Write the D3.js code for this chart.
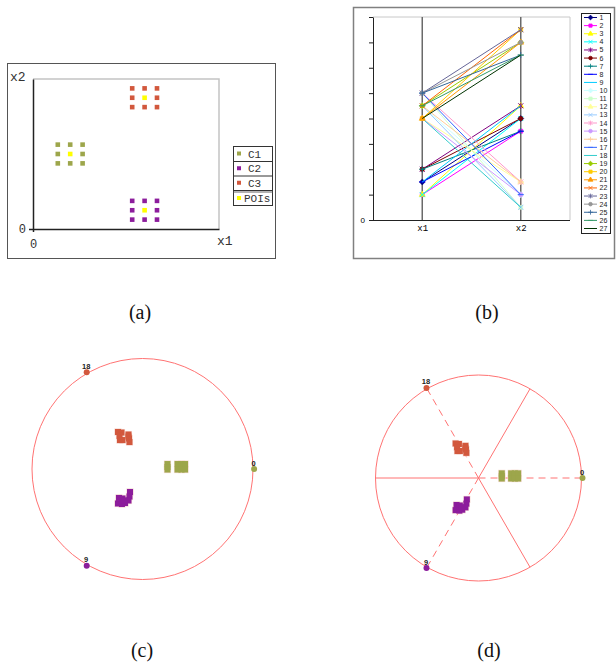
<!DOCTYPE html>
<html>
<head>
<meta charset="utf-8">
<script src="https://cdn.jsdelivr.net/npm/d3@7"></script>
<style>
body { margin: 0; background: #fff; }
svg { display: block; }
</style>
</head>
<body>
<div id="fig"></div>
<script>
// 27 points, 3 clusters of 9 (series 1..27 in panel b)
var pointX1 = [3, 2, 2, 2, 4, 4, 4, 3, 3,
               9, 10, 8, 9, 10, 8, 9, 10, 8,
               9, 8, 8, 9, 10, 10, 10, 9, 8];
var pointX2 = [8, 7, 9, 8, 9, 8, 7, 7, 9,
               2, 1, 3, 1, 3, 2, 3, 2, 1,
               14, 15, 14, 15, 15, 14, 13, 13, 13];
var pointCluster = [0, 0, 0, 0, 0, 0, 0, 0, 0,
                    1, 1, 1, 1, 1, 1, 1, 1, 1,
                    2, 2, 2, 2, 2, 2, 2, 2, 2];
var poiIndex = [0, 9, 18];
var clusterNames = ['C1', 'C2', 'C3'];
var axisNames = ['x1', 'x2'];
var seriesNames = ['1','2','3','4','5','6','7','8','9','10','11','12','13','14',
                   '15','16','17','18','19','20','21','22','23','24','25','26','27'];

// radviz projection of the same points (unit circle coords)
var projX = [0.226, 0.226, 0.317, 0.317, 0.353, 0.353, 0.385, 0.385, 0.226,
             -0.213, -0.181, -0.222, -0.186, -0.113, -0.118, -0.127, -0.158, -0.163,
             -0.222, -0.190, -0.208, -0.204, -0.181, -0.127, -0.122, -0.118, -0.127];
var projY = [0.045, -0.005, 0.045, -0.005, 0.045, -0.005, 0.045, -0.005, 0.018,
             -0.262, -0.267, -0.312, -0.317, -0.208, -0.249, -0.285, -0.308, -0.285,
             0.335, 0.330, 0.299, 0.262, 0.262, 0.312, 0.276, 0.244, 0.294];
// anchors = POI point index, placed around the circle in this order
var anchorNames = ['0', '18', '9'];

var clusterColor = ['#9da64b', '#8c1d9c', '#d2583d'];
var poiColor = '#ffff00';
var seriesColor = ['#000080', '#ff00ff', '#ffff00', '#00ffff', '#800080', '#800000', '#008080', '#0000ff', '#00ccff',
                   '#ccffff', '#ccffcc', '#ffff99', '#99ccff', '#ff99cc', '#cc99ff', '#ffcc99', '#3366ff', '#33cccc',
                   '#99cc00', '#ffcc00', '#ff9900', '#ff6600', '#666699', '#969696', '#336699', '#339966', '#003300'];
var markerTypes = ['diamond', 'square', 'triangle', 'times', 'star', 'circle', 'plus', 'dash', 'none'];
var ringColor = '#ff7373';

var svg = d3.select('#fig').append('svg')
    .attr('width', 616)
    .attr('height', 669);

svg.append('rect')
    .attr('width', 616)
    .attr('height', 669)
    .attr('fill', '#fff');

function drawScatter(g) {
    var x = d3.scaleLinear().domain([0, 15]).range([33, 219]);
    var y = d3.scaleLinear().domain([0, 16]).range([229, 79]);
    var mono = '"Liberation Mono", "DejaVu Sans Mono", monospace';

    g.append('rect')
        .attr('x', 7.5).attr('y', 63.5)
        .attr('width', 268).attr('height', 195)
        .attr('fill', 'none')
        .attr('stroke', '#555');

    g.append('path')
        .attr('d', 'M' + x(0) + ',' + y(16) + 'H' + x(15) + 'V' + y(0))
        .attr('fill', 'none')
        .attr('stroke', '#c4c4c4')
        .attr('stroke-width', 1.5);

    var xa = g.append('g')
        .attr('transform', 'translate(0,' + y(0) + ')')
        .call(d3.axisBottom(x).tickValues([0]).tickSize(3).tickSizeOuter(0).tickPadding(7));
    var ya = g.append('g')
        .attr('transform', 'translate(' + x(0) + ',0)')
        .call(d3.axisLeft(y).tickValues([0]).tickSize(4).tickSizeOuter(0).tickPadding(3));
    [xa, ya].forEach(function(a) {
        a.attr('font-family', mono).attr('font-size', 12);
        a.selectAll('path, line').attr('stroke', '#222').attr('stroke-width', 1.5);
        a.selectAll('text').attr('fill', '#333');
    });

    g.append('text')
        .attr('x', 10).attr('y', 81)
        .attr('font-family', mono).attr('font-size', 13).attr('fill', '#333')
        .text('x2');
    g.append('text')
        .attr('x', 217).attr('y', 245)
        .attr('font-family', mono).attr('font-size', 13).attr('fill', '#333')
        .text('x1');

    g.selectAll('.pt')
        .data(d3.range(pointX1.length))
        .enter().append('rect')
        .attr('class', 'pt')
        .attr('x', d => x(pointX1[d]) - 2.3)
        .attr('y', d => y(pointX2[d]) - 2.3)
        .attr('width', 4.6).attr('height', 4.6)
        .attr('fill', d => poiIndex.indexOf(d) >= 0 ? poiColor : clusterColor[pointCluster[d]]);

    // legend
    var names = clusterNames.concat(['POIs']);
    var colors = clusterColor.concat([poiColor]);
    var rowY = [146, 161, 175.5, 190, 206];
    var lg = g.append('g');
    lg.append('rect')
        .attr('x', 233.5).attr('y', 146.5)
        .attr('width', 39).attr('height', 59)
        .attr('fill', '#fff').attr('stroke', '#333');
    names.forEach(function(n, i) {
        if (i > 0) {
            lg.append('line')
                .attr('x1', 233.5).attr('x2', 272.5)
                .attr('y1', rowY[i] + 0.5).attr('y2', rowY[i] + 0.5)
                .attr('stroke', '#333');
        }
        var cy = (rowY[i] + rowY[i + 1]) / 2;
        lg.append('rect')
            .attr('x', 237).attr('y', cy - 2)
            .attr('width', 4).attr('height', 4)
            .attr('fill', colors[i]);
        lg.append('text')
            .attr('x', n === 'POIs' ? 244 : 248).attr('y', cy + 4)
            .attr('font-family', mono).attr('font-size', 11).attr('fill', '#333')
            .text(n);
    });
    lg.append('line')
        .attr('x1', 233.5).attr('x2', 272.5)
        .attr('y1', 192).attr('y2', 192)
        .attr('stroke', '#666');
}

function markerPath(type) {
    var s = 3;
    switch (type) {
        case 'diamond': return 'M0,' + (-s) + 'L' + s + ',0L0,' + s + 'L' + (-s) + ',0Z';
        case 'square': return d3.symbol(d3.symbolSquare, 16)();
        case 'triangle': return d3.symbol(d3.symbolTriangle, 16)();
        case 'times': return 'M-2.5,-2.5L2.5,2.5M-2.5,2.5L2.5,-2.5';
        case 'star': return 'M-2.5,-2.5L2.5,2.5M-2.5,2.5L2.5,-2.5M0,-3V3';
        case 'circle': return d3.symbol(d3.symbolCircle, 16)();
        case 'plus': return 'M-3,0H3M0,-3V3';
        case 'dash': return 'M-3,0H3';
        default: return null;
    }
}

function drawParallel(g) {
    var x = d3.scalePoint().domain(axisNames).range([373, 570]).padding(0.5);
    var y = d3.scaleLinear().domain([0, 16]).range([220, 17]);

    g.append('rect')
        .attr('x', 353.5).attr('y', 7.5)
        .attr('width', 261).attr('height', 251)
        .attr('fill', 'none')
        .attr('stroke', '#808080')
        .attr('stroke-width', 1.5);

    g.append('path')
        .attr('d', 'M' + 373 + ',' + y(16) + 'H570V' + y(0))
        .attr('fill', 'none')
        .attr('stroke', '#c8c8c8');

    axisNames.forEach(function(a) {
        g.append('line')
            .attr('x1', x(a)).attr('x2', x(a))
            .attr('y1', y(16)).attr('y2', y(0))
            .attr('stroke', '#6a6a6a')
            .attr('stroke-width', 1.5);
    });

    var ya = g.append('g')
        .attr('transform', 'translate(373,0)')
        .call(d3.axisLeft(y).tickValues(d3.range(0, 17, 2)).tickSize(4).tickSizeOuter(0)
            .tickPadding(4).tickFormat(d => d === 0 ? '0' : ''));
    ya.attr('font-size', 8).attr('font-family', 'Arial, "Liberation Sans", sans-serif');
    ya.selectAll('path, line').attr('stroke', '#222');

    var xa = g.append('g')
        .attr('transform', 'translate(0,' + y(0) + ')')
        .call(d3.axisBottom(x).tickSize(0).tickSizeOuter(0).tickPadding(5));
    xa.attr('font-size', 9).attr('font-family', '"Liberation Mono", monospace');
    xa.selectAll('path').attr('stroke', '#222');
    xa.select('.domain').attr('d', 'M373,0.5H570');

    var line = d3.line()
        .x(d => x(d.axis))
        .y(d => y(d.value));

    var series = d3.range(pointX1.length).map(function(i) {
        return [{axis: 'x1', value: pointX1[i]}, {axis: 'x2', value: pointX2[i]}];
    });

    var sg = g.selectAll('.series')
        .data(series)
        .enter().append('g')
        .attr('class', 'series');

    sg.append('path')
        .attr('d', line)
        .attr('fill', 'none')
        .attr('stroke', (d, i) => seriesColor[i])
        .attr('stroke-width', 1);

    sg.each(function(d, i) {
        var mp = markerPath(markerTypes[i % 9]);
        if (!mp) return;
        var filled = ['diamond', 'square', 'triangle', 'circle'].indexOf(markerTypes[i % 9]) >= 0;
        d3.select(this).selectAll('.mk')
            .data(d)
            .enter().append('path')
            .attr('class', 'mk')
            .attr('transform', p => 'translate(' + x(p.axis) + ',' + y(p.value) + ')')
            .attr('d', mp)
            .attr('fill', filled ? seriesColor[i] : 'none')
            .attr('stroke', seriesColor[i])
            .attr('stroke-width', filled ? 0.5 : 1);
    });

    // legend
    var lg = g.append('g');
    lg.append('rect')
        .attr('x', 581.5).attr('y', 13.5)
        .attr('width', 29).attr('height', 220)
        .attr('fill', '#fff')
        .attr('stroke', '#222');
    var ly = d3.scaleLinear().domain([0, 26]).range([17.5, 228.5]);
    seriesNames.forEach(function(n, i) {
        var row = lg.append('g').attr('transform', 'translate(0,' + ly(i) + ')');
        row.append('line')
            .attr('x1', 584).attr('x2', 597)
            .attr('stroke', seriesColor[i]).attr('stroke-width', 1);
        var mp = markerPath(markerTypes[i % 9]);
        if (mp) {
            var filled = ['diamond', 'square', 'triangle', 'circle'].indexOf(markerTypes[i % 9]) >= 0;
            row.append('path')
                .attr('transform', 'translate(590.5,0) scale(0.8)')
                .attr('d', mp)
                .attr('fill', filled ? seriesColor[i] : 'none')
                .attr('stroke', seriesColor[i]);
        }
        row.append('text')
            .attr('x', 599.5).attr('y', 2.5)
            .attr('font-family', 'Arial, "Liberation Sans", sans-serif')
            .attr('font-size', 7).attr('fill', '#222')
            .text(n);
    });
}

function drawRadviz(g, cx, cy, r, sectors) {
    var x = d3.scaleLinear().domain([-1, 1]).range([cx - r, cx + r]);
    var y = d3.scaleLinear().domain([-1, 1]).range([cy + r, cy - r]);
    var step = 2 * Math.PI / anchorNames.length;

    g.append('circle')
        .attr('cx', x(0)).attr('cy', y(0)).attr('r', r)
        .attr('fill', 'none')
        .attr('stroke', ringColor)
        .attr('stroke-width', 1);

    if (sectors) {
        anchorNames.forEach(function(a, i) {
            var t = i * step + step / 2;
            g.append('line')
                .attr('x1', x(0)).attr('y1', y(0))
                .attr('x2', x(Math.cos(t))).attr('y2', y(Math.sin(t)))
                .attr('stroke', ringColor);
            var u = i * step;
            g.append('line')
                .attr('x1', x(0)).attr('y1', y(0))
                .attr('x2', x(Math.cos(u))).attr('y2', y(Math.sin(u)))
                .attr('stroke', ringColor)
                .attr('stroke-dasharray', '7,5');
        });
    }

    var idx = d3.range(projX.length);
    // pale halo under the squares, then the solid squares on top
    g.selectAll('.halo')
        .data(idx)
        .enter().append('rect')
        .attr('class', 'halo')
        .attr('x', d => x(projX[d]) - 3.6)
        .attr('y', d => y(projY[d]) - 3.6)
        .attr('width', 7.2).attr('height', 7.2)
        .attr('fill', '#f6dcd6');
    g.selectAll('.rp')
        .data(idx)
        .enter().append('rect')
        .attr('class', 'rp')
        .attr('x', d => x(projX[d]) - 3)
        .attr('y', d => y(projY[d]) - 3)
        .attr('width', 6).attr('height', 6)
        .attr('fill', d => clusterColor[pointCluster[d]]);

    anchorNames.forEach(function(a, i) {
        var u = i * step;
        var ax = x(Math.cos(u) * 1.01), ay = y(Math.sin(u) * 1.01);
        g.append('circle')
            .attr('cx', ax).attr('cy', ay).attr('r', 3)
            .attr('fill', clusterColor[pointCluster[+a]]);
        g.append('text')
            .attr('x', ax - 0.5).attr('y', ay - 3.5)
            .attr('text-anchor', 'middle')
            .attr('font-family', 'Arial, "Liberation Sans", sans-serif')
            .attr('font-weight', 'bold')
            .attr('font-size', 7.5)
            .attr('fill', '#222')
            .text(a);
    });
}

drawScatter(svg.append('g'));
drawParallel(svg.append('g'));
drawRadviz(svg.append('g'), 142.5, 469, 110.5, false);
drawRadviz(svg.append('g'), 478.5, 478, 103, true);

var captions = [['(a)', 140, 319], ['(b)', 487, 319], ['(c)', 142, 657], ['(d)', 489, 657]];
svg.selectAll('.cap')
    .data(captions)
    .enter().append('text')
    .attr('class', 'cap')
    .attr('x', d => d[1]).attr('y', d => d[2])
    .attr('text-anchor', 'middle')
    .attr('font-family', '"Liberation Serif", "Times New Roman", serif')
    .attr('font-size', 20)
    .attr('fill', '#111')
    .text(d => d[0]);
</script>
</body>
</html>
